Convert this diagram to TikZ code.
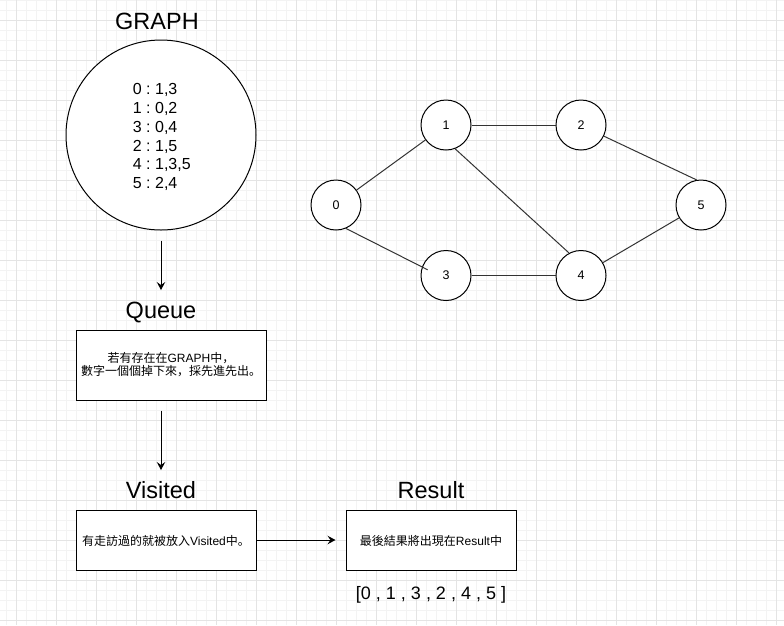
\documentclass[tikz,border=0pt]{standalone}
\usepackage{fontspec}
\setmainfont{Liberation Sans}
\newfontfamily\cjk{Noto Sans CJK SC}
\usetikzlibrary{arrows.meta,calc}
\definecolor{gridminor}{RGB}{243,243,243}
\definecolor{gridmajor}{RGB}{228,228,228}
\frenchspacing
\begin{document}
\begin{tikzpicture}[x=1pt,y=-1pt,
  minorgrid/.style={draw=gridminor,line width=1pt},
  majorgrid/.style={draw=gridmajor,line width=1pt},
  vertex/.style={circle,draw=black,fill=white,line width=1pt,minimum size=50pt,inner sep=0pt,font=\fontsize{12.5}{14}\selectfont},
  bigcircle/.style={circle,draw=black,fill=white,line width=1pt,minimum size=190pt,inner sep=0pt},
  box/.style={rectangle,draw=black,fill=white,line width=1pt,inner sep=0pt},
  title/.style={anchor=base,inner sep=0pt,font=\fontsize{23.5}{27}\selectfont},
  boxtext/.style={align=center,inner sep=0pt,font=\fontsize{12}{13}\selectfont},
  edge/.style={draw=black!80,line width=1pt},
  arrow/.style={draw=black,line width=1pt,-{Stealth[length=8pt,width=8.5pt,inset=3pt]}}
]
\useasboundingbox (0,0) rectangle (784,625);
\fill[white] (0,0) rectangle (784,625);
% grid
\foreach \x in {6,16,...,784} \draw[minorgrid] (\x,0) -- (\x,625);
\foreach \y in {0,10,...,625} \draw[minorgrid] (0,\y) -- (784,\y);
\foreach \x in {16,56,...,784} \draw[majorgrid] (\x,0) -- (\x,625);
\foreach \y in {20,60,...,625} \draw[majorgrid] (0,\y) -- (784,\y);

% left column
\node[title] (graphtitle) at (157,29.3) {GRAPH};
\node[bigcircle] (graph) at (161,135) {};
\node[anchor=west,inner sep=0pt,align=left,font=\fontsize{16}{18.8}\selectfont\frenchspacing] (adj) at (132.7,137.2)
  {0 : 1,3\\1 : 0,2\\3 : 0,4\\2 : 1,5\\4 : 1,3,5\\5 : 2,4};

\node[title] (queuetitle) at (161,318.3) {Queue};
\node[box,minimum width=190pt,minimum height=70pt] (queuebox) at (171,365) {};
\node[boxtext] (queuetext) at (171,365)
  {{\cjk 若有存在在}GRAPH{\cjk 中，}\\{\cjk 數字一個個掉下來，採先進先出。}};

\node[title] (visitedtitle) at (161,498.3) {Visited};
\node[box,minimum width=180pt,minimum height=60pt] (visitedbox) at (166,540) {};
\node[boxtext] (visitedtext) at (166,540.5) {{\cjk 有走訪過的就被放入}Visited{\cjk 中。}};

\node[title] (resulttitle) at (431,498.3) {Result};
\node[box,minimum width=170pt,minimum height=60pt] (resultbox) at (431,540) {};
\node[boxtext] (resulttext) at (431,540.5) {{\cjk 最後結果將出現在}Result{\cjk 中}};
\node[anchor=base,inner sep=0pt,font=\fontsize{18}{22}\selectfont\frenchspacing] (resultlist) at (431,599.5)
  {[0 , 1 , 3 , 2 , 4 , 5 ]};

% arrows
\coordinate (tip1) at (161,290);
\coordinate (tip2) at (161,470);
\draw[arrow,shorten <=10pt] (graph.south) -- (tip1);
\draw[arrow,shorten <=10pt] (tip2 |- queuebox.south) -- (tip2);
\draw[arrow,shorten >=10pt] (visitedbox.east) -- (resultbox.west);

% graph
\node[vertex] (n0) at (336,205) {0};
\node[vertex] (n1) at (446,125) {1};
\node[vertex] (n2) at (581,125) {2};
\node[vertex] (n3) at (446,275.5) {3};
\node[vertex] (n4) at (581,275.5) {4};
\node[vertex] (n5) at (701,205) {5};

\draw[edge] (n0) -- (n1);
\draw[edge] (n0.-67) -- ([shift={(-18.3,-5.7)}]n3.center);
\draw[edge] (n1) -- (n2);
\draw[edge] (n1.-69) -- (n4.118);
\draw[edge] (n3) -- (n4);
\draw[edge] (n2.-26) -- (n5.100);
\draw[edge] (n4) -- (n5);
\end{tikzpicture}
\end{document}
